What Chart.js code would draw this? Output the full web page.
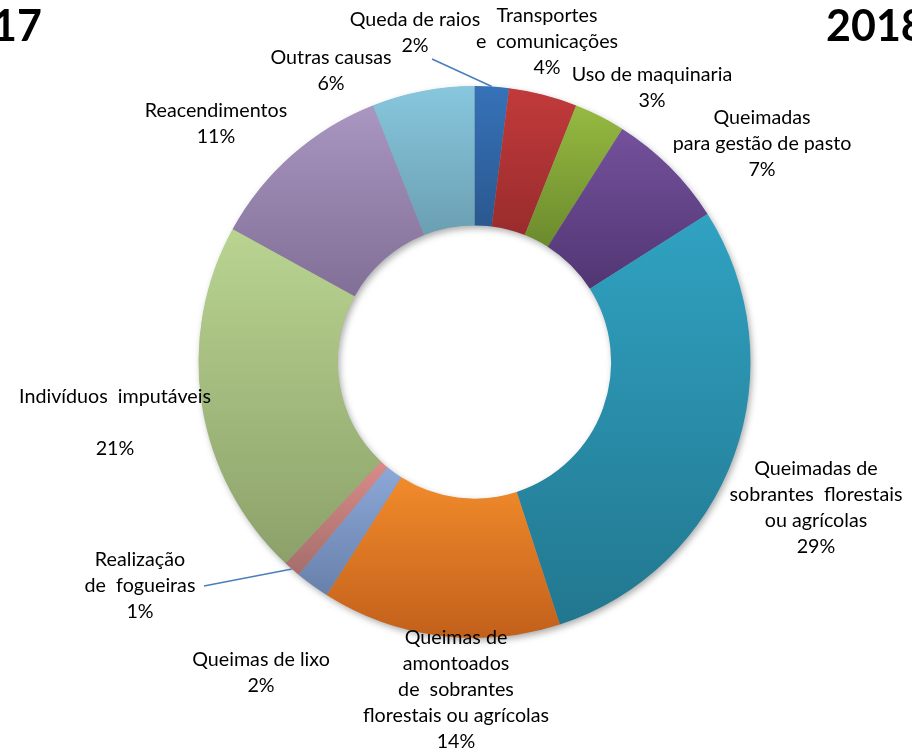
<!DOCTYPE html>
<html>
<head>
    <title>Causas dos incêndios</title>
    <script src="https://cdn.jsdelivr.net/npm/chart.js@4/dist/chart.umd.min.js"></script>
    <style>
        * { margin: 0; padding: 0; box-sizing: border-box; }
        body { background: #fff; width: 912px; height: 750px; overflow: hidden; }
        .wrap { position: relative; width: 912px; height: 750px; }
    </style>
</head>
<body>
    <div class="wrap">
        <canvas id="donut"></canvas>
    </div>

    <script>
        // data
        const categories = [
            'Queda de raios',
            'Transportes\ne  comunicações',
            'Uso de maquinaria',
            'Queimadas\npara gestão de pasto',
            'Queimadas de\nsobrantes  florestais\nou agrícolas',
            'Queimas de\namontoados\nde  sobrantes\nflorestais ou agrícolas',
            'Queimas de lixo',
            'Realização\nde  fogueiras',
            'Indivíduos  imputáveis\n',
            'Reacendimentos',
            'Outras causas'
        ];
        const shares = [2, 4, 3, 7, 29, 14, 2, 1, 21, 11, 6];
        const yearLeft = '2017';
        const yearRight = '2018';

        // styles: light (top) and dark (bottom) end of each slice gradient
        const topColors = ['#3672b8', '#c23a3b', '#95ba41', '#74519c', '#30a2c2', '#f18b2b',
                           '#8ca8d8', '#d98b89', '#b9d491', '#a996c1', '#87c7de'];
        const bottomColors = ['#2a5890', '#992c2d', '#6c8a2d', '#513673', '#22778f', '#c2601b',
                              '#6880ab', '#a56e6b', '#8ca16a', '#816f97', '#6b9fb2'];

        // label layout: centre x, first line y, and optional leader line start
        const labelLayout = [
            { x: 415, y: 20, lead: [432, 59] },
            { x: 547, y: 16 },
            { x: 652, y: 75 },
            { x: 762, y: 118 },
            { x: 816, y: 469 },
            { x: 456, y: 638 },
            { x: 261, y: 660 },
            { x: 140, y: 560, lead: [204, 586] },
            { x: 115, y: 397 },
            { x: 216, y: 111 },
            { x: 331, y: 58 }
        ];
        const CUT = 0.495;
        const FONT = '19.7px Lato, "Open Sans", sans-serif';
        const LINE_H = 26;

        function sliceGradient(context) {
            const chart = context.chart;
            const area = chart.chartArea;
            const i = context.dataIndex;
            if (!area || i === undefined) return topColors[i || 0];
            const cx = (area.left + area.right) / 2;
            const cy = (area.top + area.bottom) / 2;
            const r = Math.min(area.width, area.height) / 2;
            const total = shares.reduce((a, b) => a + b, 0);
            let before = 0;
            for (let k = 0; k < i; k++) before += shares[k];
            const a0 = -Math.PI / 2 + before / total * Math.PI * 2;
            const a1 = a0 + shares[i] / total * Math.PI * 2;
            let minY = Infinity, maxY = -Infinity;
            for (let s = 0; s <= 30; s++) {
                const a = a0 + (a1 - a0) * s / 30;
                for (const rr of [r, r * CUT]) {
                    const y = cy + rr * Math.sin(a);
                    minY = Math.min(minY, y);
                    maxY = Math.max(maxY, y);
                }
            }
            const g = chart.ctx.createLinearGradient(0, minY, 0, maxY);
            g.addColorStop(0, topColors[i]);
            g.addColorStop(1, bottomColors[i]);
            return g;
        }

        // soft shadow under the ring
        const ringShadow = {
            id: 'ringShadow',
            beforeDatasetsDraw(chart) {
                const arc = chart.getDatasetMeta(0).data[0];
                if (!arc) return;
                const ctx = chart.ctx;
                ctx.save();
                ctx.shadowColor = 'rgba(0,0,0,0.35)';
                ctx.shadowBlur = 7;
                ctx.shadowOffsetX = 2;
                ctx.shadowOffsetY = 3;
                ctx.beginPath();
                ctx.arc(arc.x, arc.y, arc.outerRadius - 0.5, 0, Math.PI * 2);
                ctx.arc(arc.x, arc.y, arc.innerRadius + 0.5, 0, Math.PI * 2, true);
                ctx.fillStyle = '#999';
                ctx.fill();
                ctx.restore();
            }
        };

        // category labels, percentages, leader lines and year titles
        const sliceLabels = {
            id: 'sliceLabels',
            afterDatasetsDraw(chart) {
                const ctx = chart.ctx;
                const meta = chart.getDatasetMeta(0);
                const total = shares.reduce((a, b) => a + b, 0);
                ctx.save();
                meta.data.forEach((arc, i) => {
                    const pos = labelLayout[i];
                    if (pos.lead) {
                        const mid = (arc.startAngle + arc.endAngle) / 2;
                        ctx.beginPath();
                        ctx.moveTo(pos.lead[0], pos.lead[1]);
                        ctx.lineTo(arc.x + Math.cos(mid) * arc.outerRadius,
                                   arc.y + Math.sin(mid) * arc.outerRadius);
                        ctx.strokeStyle = '#4a7ebb';
                        ctx.lineWidth = 1.5;
                        ctx.stroke();
                    }
                    const lines = categories[i].split('\n');
                    lines.push(Math.round(shares[i] / total * 100) + '%');
                    ctx.font = FONT;
                    ctx.fillStyle = '#000';
                    ctx.textAlign = 'center';
                    ctx.textBaseline = 'middle';
                    lines.forEach((t, j) => ctx.fillText(t, pos.x, pos.y + j * LINE_H));
                });
                ctx.font = 'bold 43px Lato, "Open Sans", sans-serif';
                ctx.textBaseline = 'middle';
                ctx.textAlign = 'right';
                ctx.fillText(yearLeft, 42, 27);
                ctx.textAlign = 'left';
                ctx.fillText(yearRight, 826, 27);
                ctx.restore();
            }
        };

        new Chart(document.getElementById('donut'), {
            type: 'doughnut',
            data: {
                labels: categories,
                datasets: [{
                    data: shares,
                    backgroundColor: sliceGradient,
                    borderWidth: 0,
                    hoverOffset: 0
                }]
            },
            options: {
                responsive: true,
                maintainAspectRatio: false,
                animation: false,
                cutout: (CUT * 100) + '%',
                layout: {
                    padding: { left: 198.5, right: 161.5, top: 86, bottom: 112 }
                },
                plugins: {
                    legend: { display: false },
                    tooltip: { enabled: false }
                }
            },
            plugins: [ringShadow, sliceLabels]
        });
    </script>
</body>
</html>
